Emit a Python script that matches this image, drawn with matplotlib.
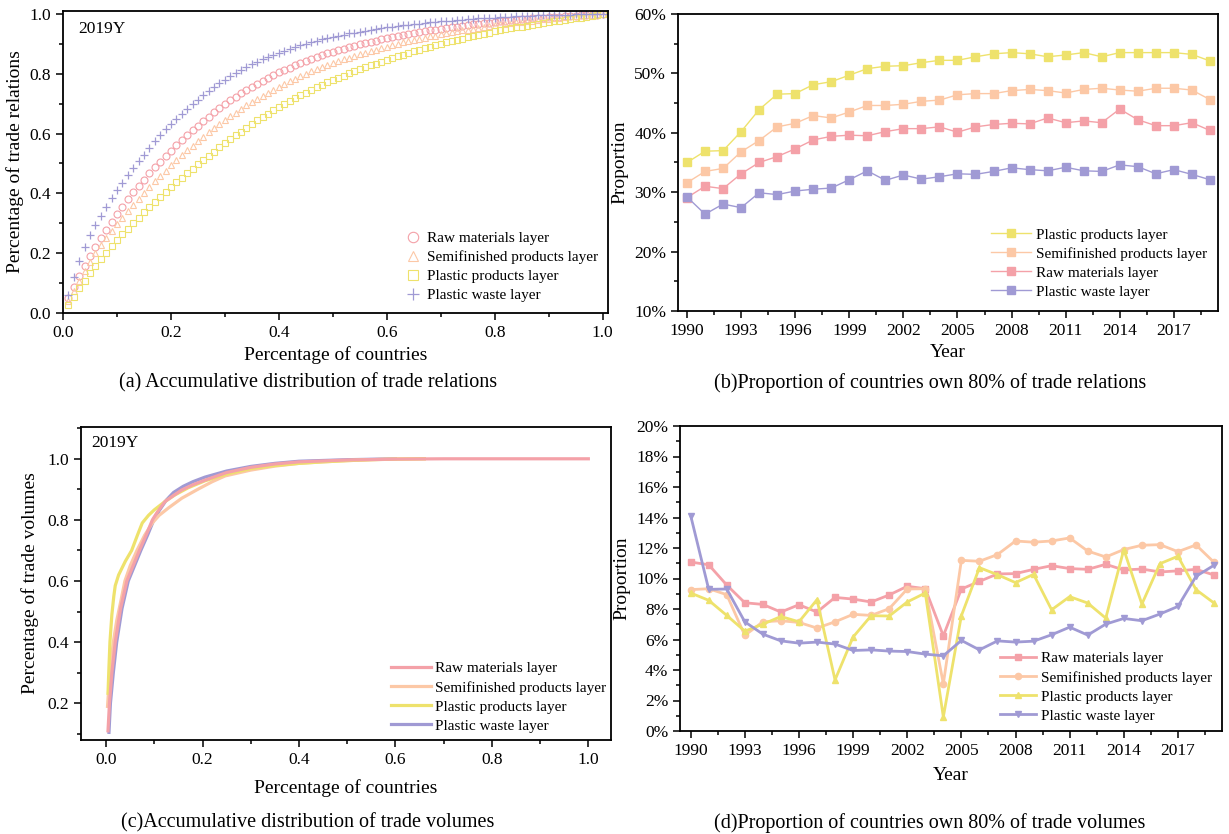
import numpy as np
import matplotlib
matplotlib.use("Agg")
import matplotlib.pyplot as plt
from matplotlib.ticker import MultipleLocator, FuncFormatter

plt.rcParams["font.family"] = "Liberation Serif"

W, H = 1229, 834

RAW = "#F4A1A8"
SEMI = "#FCC8A6"
PROD = "#EEE26C"
WASTE = "#A09AD4"

LAYERS = ["Raw materials layer", "Semifinished products layer",
          "Plastic products layer", "Plastic waste layer"]

# ---- (a) cumulative share of trade relations, 2019 ----
share = np.arange(1, 101) / 100
rel_raw = [.050, .088, .124, .158, .190, .221, .250, .278, .305, .331,
           .356, .380, .403, .425, .446, .467, .487, .506, .525, .543,
           .561, .578, .595, .611, .627, .642, .657, .671, .685, .698,
           .711, .723, .735, .746, .757, .767, .777, .787, .796, .805,
           .813, .821, .829, .836, .843, .850, .856, .862, .868, .874,
           .879, .884, .889, .894, .899, .903, .907, .911, .915, .919,
           .923, .926, .930, .933, .936, .939, .942, .945, .948, .951,
           .953, .956, .958, .961, .963, .965, .967, .969, .971, .973,
           .975, .977, .979, .980, .982, .983, .985, .986, .987, .989,
           .990, .991, .992, .993, .994, .995, .996, .997, .998, 1.0]
rel_semi = [.040, .074, .108, .141, .172, .200, .226, .250, .273, .296,
            .318, .340, .361, .382, .402, .421, .440, .458, .476, .494,
            .511, .528, .544, .560, .575, .590, .604, .618, .632, .645,
            .658, .670, .682, .694, .705, .716, .727, .737, .747, .757,
            .766, .775, .784, .792, .800, .808, .815, .822, .829, .836,
            .842, .848, .854, .860, .866, .871, .876, .881, .886, .891,
            .896, .900, .905, .909, .913, .917, .921, .925, .928, .932,
            .935, .939, .942, .945, .948, .951, .954, .957, .960, .962,
            .965, .967, .970, .972, .974, .976, .978, .980, .982, .984,
            .986, .988, .990, .992, .993, .995, .996, .997, .999, 1.0]
rel_prod = [.028, .055, .082, .108, .133, .157, .180, .202, .223, .243,
            .263, .282, .301, .319, .337, .355, .372, .389, .405, .421,
            .437, .452, .467, .482, .497, .512, .526, .540, .554, .568,
            .581, .594, .607, .620, .632, .644, .656, .667, .678, .689,
            .699, .709, .719, .728, .737, .746, .755, .763, .771, .779,
            .787, .794, .801, .808, .815, .822, .828, .834, .840, .846,
            .852, .858, .864, .869, .875, .880, .885, .890, .895, .900,
            .905, .909, .914, .918, .922, .926, .930, .934, .938, .942,
            .945, .949, .952, .955, .958, .961, .964, .967, .970, .973,
            .976, .978, .981, .983, .986, .988, .991, .994, .997, 1.0]
rel_waste = [.060, .120, .175, .220, .260, .295, .325, .355, .385, .410,
             .435, .460, .485, .510, .530, .552, .574, .595, .614, .632,
             .650, .667, .683, .699, .714, .728, .742, .755, .768, .780,
             .792, .803, .813, .823, .832, .841, .849, .857, .864, .871,
             .877, .883, .889, .895, .900, .905, .910, .915, .919, .923,
             .927, .931, .935, .938, .941, .944, .947, .950, .953, .955,
             .958, .960, .962, .964, .966, .968, .970, .972, .974, .975,
             .977, .978, .980, .981, .982, .983, .985, .986, .987, .988,
             .989, .990, .991, .992, .993, .993, .994, .995, .995, .996,
             .997, .997, .998, .998, .999, .999, .999, 1.0, 1.0, 1.0]

# ---- (b) share of countries holding 80% of trade relations (%) ----
years = np.arange(1990, 2020)
top_rel_prod = [35.0, 36.9, 37.0, 40.2, 43.9, 46.5, 46.6, 48.1, 48.6, 49.7,
                50.8, 51.2, 51.3, 51.8, 52.2, 52.2, 52.8, 53.3, 53.5, 53.3,
                52.8, 53.1, 53.5, 52.8, 53.5, 53.5, 53.5, 53.5, 53.2, 52.1]
top_rel_semi = [31.6, 33.5, 34.0, 36.8, 38.7, 41.0, 41.6, 42.9, 42.5, 43.5,
                44.6, 44.6, 44.8, 45.3, 45.5, 46.4, 46.6, 46.6, 47.1, 47.3,
                47.1, 46.7, 47.3, 47.5, 47.2, 47.0, 47.5, 47.5, 47.2, 45.6]
top_rel_raw = [29.1, 31.0, 30.6, 33.1, 35.0, 36.0, 37.3, 38.8, 39.4, 39.6,
               39.5, 40.2, 40.7, 40.7, 41.0, 40.1, 41.0, 41.4, 41.6, 41.5,
               42.5, 41.7, 42.0, 41.7, 44.0, 42.2, 41.2, 41.2, 41.7, 40.4]
top_rel_waste = [29.2, 26.3, 28.0, 27.4, 29.9, 29.6, 30.2, 30.5, 30.7, 32.1,
                 33.6, 32.0, 32.9, 32.2, 32.6, 33.1, 33.0, 33.5, 34.1, 33.8,
                 33.6, 34.2, 33.6, 33.5, 34.6, 34.3, 33.1, 33.8, 33.0, 32.1]

# ---- (c) cumulative share of trade volumes, 2019 ----
vol_raw_x = [0.004, 0.007, 0.012, 0.019, 0.030, 0.043, 0.056, 0.069, 0.083,
             0.096, 0.106, 0.122, 0.140, 0.157, 0.180, 0.205, 0.250, 0.300,
             0.350, 0.400, 0.500, 0.600, 0.700, 0.800, 0.900, 1.000]
vol_raw_y = [0.11, 0.20, 0.30, 0.40, 0.51, 0.60, 0.65, 0.70, 0.75,
             0.80, 0.825, 0.86, 0.88, 0.898, 0.915, 0.93, 0.955, 0.972,
             0.983, 0.99, 0.996, 0.999, 1.0, 1.0, 1.0, 1.0]
vol_semi_x = [0.003, 0.006, 0.010, 0.015, 0.022, 0.030, 0.039, 0.050, 0.064,
              0.080, 0.096, 0.110, 0.130, 0.157, 0.190, 0.220, 0.247, 0.300,
              0.350, 0.400, 0.450, 0.500, 0.550, 0.600, 0.660]
vol_semi_y = [0.19, 0.26, 0.33, 0.40, 0.47, 0.53, 0.60, 0.65, 0.70,
              0.75, 0.79, 0.815, 0.84, 0.871, 0.90, 0.925, 0.944, 0.963,
              0.976, 0.985, 0.99, 0.994, 0.997, 0.999, 1.0]
vol_prod_x = [0.004, 0.006, 0.008, 0.012, 0.016, 0.019, 0.026, 0.040, 0.053,
              0.065, 0.075, 0.088, 0.100, 0.122, 0.143, 0.170, 0.205, 0.250,
              0.300, 0.350, 0.400, 0.450, 0.500, 0.550, 0.600, 0.660]
vol_prod_y = [0.233, 0.32, 0.40, 0.49, 0.55, 0.585, 0.62, 0.665, 0.70,
              0.75, 0.79, 0.815, 0.833, 0.86, 0.882, 0.905, 0.928, 0.95,
              0.968, 0.978, 0.985, 0.99, 0.994, 0.997, 0.999, 1.0]
vol_waste_x = [0.006, 0.009, 0.015, 0.022, 0.033, 0.046, 0.059, 0.072, 0.086,
               0.099, 0.110, 0.125, 0.140, 0.160, 0.180, 0.205, 0.250, 0.300,
               0.350, 0.400, 0.500, 0.600]
vol_waste_y = [0.105, 0.20, 0.30, 0.40, 0.51, 0.60, 0.65, 0.70, 0.75,
               0.80, 0.83, 0.865, 0.89, 0.91, 0.925, 0.94, 0.96, 0.975,
               0.985, 0.992, 0.997, 1.0]

# ---- (d) share of countries holding 80% of trade volumes (%) ----
top_vol_raw = [11.08, 10.9, 9.57, 8.41, 8.3, 7.8, 8.28, 7.8, 8.76, 8.65,
               8.46, 8.92, 9.49, 9.33, 6.24, 9.31, 9.81, 10.3, 10.32, 10.6,
               10.84, 10.65, 10.6, 10.93, 10.56, 10.62, 10.43, 10.5, 10.6, 10.23]
top_vol_semi = [9.27, 9.33, 8.94, 6.27, 7.16, 7.23, 7.12, 6.75, 7.16, 7.65,
                7.58, 8.02, 9.31, 9.33, 3.09, 11.19, 11.13, 11.57, 12.46, 12.38,
                12.46, 12.66, 11.8, 11.41, 11.9, 12.18, 12.22, 11.76, 12.2, 11.06]
top_vol_prod = [9.05, 8.57, 7.58, 6.55, 7.0, 7.51, 7.16, 8.61, 3.35, 6.16,
                7.56, 7.54, 8.46, 9.05, 0.92, 7.56, 10.71, 10.25, 9.73, 10.27,
                7.95, 8.81, 8.39, 7.4, 11.9, 8.32, 10.97, 11.46, 9.27, 8.39]
top_vol_waste = [14.13, 9.29, 9.31, 7.16, 6.35, 5.91, 5.76, 5.83, 5.7, 5.28,
                 5.32, 5.24, 5.21, 5.04, 4.93, 5.94, 5.32, 5.91, 5.83, 5.89,
                 6.31, 6.81, 6.29, 7.01, 7.38, 7.23, 7.67, 8.17, 10.14, 10.87]


def rect(l, t, r, b):
    return [l / W, 1 - b / H, (r - l) / W, (b - t) / H]


def style(ax):
    for s in ax.spines.values():
        s.set_linewidth(1.3)
    ax.tick_params(which="both", direction="out", labelsize=12.5, width=1.1)
    ax.tick_params(which="major", length=5)
    ax.tick_params(which="minor", length=3)


def year_ticks(ax):
    # majors on 1990, 1993, ... ; minors half-way
    ax.xaxis.set_major_locator(MultipleLocator(3, offset=1))
    ax.xaxis.set_minor_locator(MultipleLocator(1.5, offset=1))


pct = FuncFormatter(lambda v, _: f"{v:.0f}%")
one_dec = FuncFormatter(lambda v, _: f"{v:.1f}")
leg_kw = dict(frameon=False, fontsize=11, borderpad=0, borderaxespad=0,
              labelspacing=0.35, handletextpad=0.3)
LAB = 14

fig = plt.figure(figsize=(W / 100, H / 100), dpi=100)

# (a)
ax = fig.add_axes(rect(63, 11, 608, 313))
mk = dict(ls="none", ms=5, mfc="none", mew=0.8)
ax.plot(share, rel_raw, marker="o", color=RAW, label=LAYERS[0], **mk)
ax.plot(share, rel_semi, marker="^", color=SEMI, label=LAYERS[1], **mk)
ax.plot(share, rel_prod, marker="s", color=PROD, label=LAYERS[2], **mk)
ax.plot(share, rel_waste, marker="+", color=WASTE, label=LAYERS[3],
        ls="none", ms=6, mew=0.9)
ax.set_xlim(0, 1.01)
ax.set_ylim(0, 1.01)
ax.xaxis.set_major_locator(MultipleLocator(0.2))
ax.xaxis.set_minor_locator(MultipleLocator(0.1))
ax.yaxis.set_major_locator(MultipleLocator(0.2))
ax.yaxis.set_minor_locator(MultipleLocator(0.1))
ax.xaxis.set_major_formatter(one_dec)
ax.yaxis.set_major_formatter(one_dec)
ax.text(0.028, 0.94, "2019Y", transform=ax.transAxes, fontsize=12.5, va="center")
ax.set_xlabel("Percentage of countries", fontsize=LAB, labelpad=4)
ax.set_ylabel("Percentage of trade relations", fontsize=LAB, labelpad=4)
ax.legend(loc="upper left", bbox_to_anchor=(0.625, 0.27), handlelength=1.2,
          markerscale=1.5, **leg_kw)
style(ax)

# (b)
ax = fig.add_axes(rect(678, 14, 1218, 311))
mk = dict(marker="s", ms=5.5, lw=1.0)
ax.plot(years, top_rel_prod, color=PROD, label=LAYERS[2], **mk)
ax.plot(years, top_rel_semi, color=SEMI, label=LAYERS[1], **mk)
ax.plot(years, top_rel_raw, color=RAW, label=LAYERS[0], **mk)
ax.plot(years, top_rel_waste, color=WASTE, label=LAYERS[3], **mk)
ax.set_xlim(1989.5, 2019.45)
ax.set_ylim(10, 60)
year_ticks(ax)
ax.yaxis.set_major_locator(MultipleLocator(10))
ax.yaxis.set_minor_locator(MultipleLocator(5))
ax.yaxis.set_major_formatter(pct)
ax.set_xlabel("Year", fontsize=LAB, labelpad=4)
ax.set_ylabel("Proportion", fontsize=LAB, labelpad=4)
ax.legend(loc="upper left", bbox_to_anchor=(0.58, 0.28), handlelength=2.6,
          **leg_kw)
style(ax)

# (c)
ax = fig.add_axes(rect(81, 427, 611, 740))
ax.plot(vol_waste_x, vol_waste_y, color=WASTE, lw=2.3, label=LAYERS[3], zorder=2)
ax.plot(vol_semi_x, vol_semi_y, color=SEMI, lw=2.3, label=LAYERS[1], zorder=3)
ax.plot(vol_prod_x, vol_prod_y, color=PROD, lw=2.3, label=LAYERS[2], zorder=4)
ax.plot(vol_raw_x, vol_raw_y, color=RAW, lw=2.3, label=LAYERS[0], zorder=5)
ax.set_xlim(-0.052, 1.047)
ax.set_ylim(0.08, 1.104)
ax.xaxis.set_major_locator(MultipleLocator(0.2))
ax.xaxis.set_minor_locator(MultipleLocator(0.1))
ax.yaxis.set_major_locator(MultipleLocator(0.2))
ax.yaxis.set_minor_locator(MultipleLocator(0.1))
ax.xaxis.set_major_formatter(one_dec)
ax.yaxis.set_major_formatter(one_dec)
ax.text(0.02, 0.95, "2019Y", transform=ax.transAxes, fontsize=12.5, va="center")
ax.set_xlabel("Percentage of countries", fontsize=LAB, labelpad=8)
ax.set_ylabel("Percentage of trade volumes", fontsize=LAB, labelpad=6)
h, l = ax.get_legend_handles_labels()
order = [3, 1, 2, 0]
ax.legend([h[i] for i in order], [l[i] for i in order], loc="upper left",
          bbox_to_anchor=(0.585, 0.25), handlelength=2.6, **leg_kw)
style(ax)

# (d)
ax = fig.add_axes(rect(680, 426, 1222, 731))
ax.plot(years, top_vol_raw, color=RAW, marker="s", ms=4.5, lw=2, label=LAYERS[0])
ax.plot(years, top_vol_semi, color=SEMI, marker="o", ms=4.5, lw=2, label=LAYERS[1])
ax.plot(years, top_vol_prod, color=PROD, marker="^", ms=5, lw=2, label=LAYERS[2])
ax.plot(years, top_vol_waste, color=WASTE, marker="v", ms=5, lw=2, label=LAYERS[3])
ax.set_xlim(1989.41, 2019.44)
ax.set_ylim(0, 20)
year_ticks(ax)
ax.yaxis.set_major_locator(MultipleLocator(2))
ax.yaxis.set_minor_locator(MultipleLocator(1))
ax.yaxis.set_major_formatter(pct)
ax.set_xlabel("Year", fontsize=LAB, labelpad=6)
ax.set_ylabel("Proportion", fontsize=LAB, labelpad=4)
ax.legend(loc="upper left", bbox_to_anchor=(0.59, 0.26), handlelength=2.4,
          **leg_kw)
style(ax)

# captions
cap = dict(ha="center", va="center", fontsize=14.5)
fig.text(308 / W, 1 - 383 / H, "(a) Accumulative distribution of trade relations", **cap)
fig.text(930 / W, 1 - 383 / H, "(b)Proportion of countries own 80% of trade relations", **cap)
fig.text(308 / W, 1 - 823 / H, "(c)Accumulative distribution of trade volumes", **cap)
fig.text(930 / W, 1 - 823 / H, "(d)Proportion of countries own 80% of trade volumes", **cap)

fig.savefig("out.png", dpi=100)
